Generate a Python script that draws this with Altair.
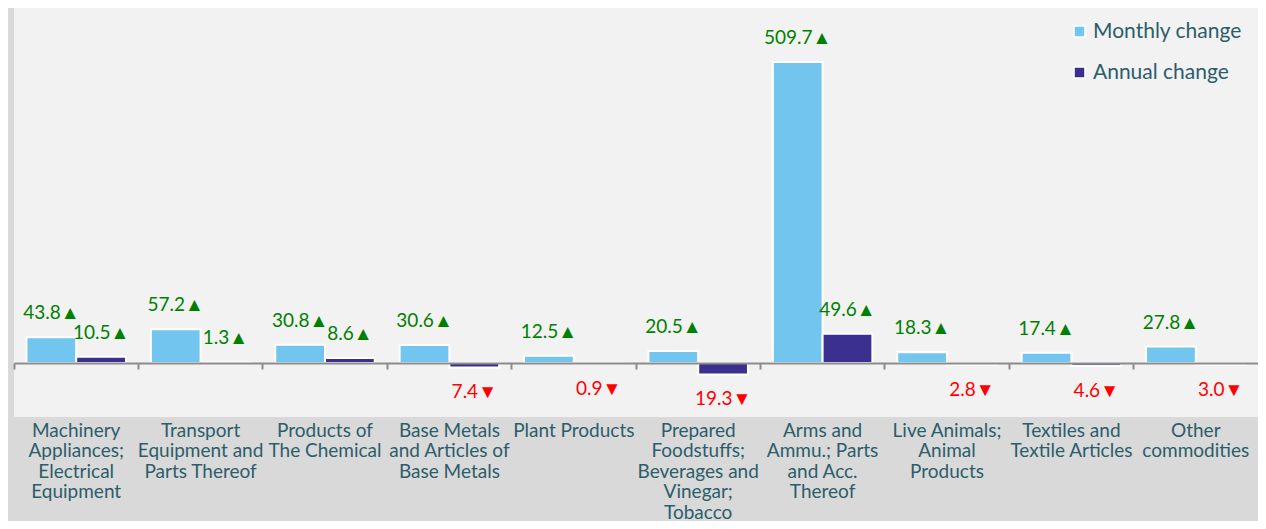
import altair as alt
import pandas as pd

categories = [
    "Machinery|Appliances;|Electrical|Equipment",
    "Transport|Equipment and|Parts Thereof",
    "Products of|The Chemical",
    "Base Metals|and Articles of|Base Metals",
    "Plant Products",
    "Prepared|Foodstuffs;|Beverages and|Vinegar;|Tobacco",
    "Arms and|Ammu.; Parts|and Acc.|Thereof",
    "Live Animals;|Animal|Products",
    "Textiles and|Textile Articles",
    "Other|commodities",
]
monthly = [43.8, 57.2, 30.8, 30.6, 12.5, 20.5, 509.7, 18.3, 17.4, 27.8]
annual = [10.5, 1.3, 8.6, -7.4, -0.9, -19.3, 49.6, -2.8, -4.6, -3.0]
series = ["Monthly change", "Annual change"]
colors = ["#72c5ef", "#3b2f8f"]

rows = []
for c, m, a in zip(categories, monthly, annual):
    for s, v in zip(series, [m, a]):
        rows.append({"category": c, "series": s, "value": v,
                     "label": f"{abs(v):.1f}" + ("▲" if v >= 0 else "▼")})
df = pd.DataFrame(rows)

FONT = "Lato"
TEAL = "#2b5d6b"
W, H = 1244, 409
ymin, ymax = -91.4, 601.2
zero_offset = -H * (0 - ymin) / (ymax - ymin)

x_enc = alt.X(
    "category:N", sort=categories, title=None,
    scale=alt.Scale(paddingInner=0, paddingOuter=0),
    axis=alt.Axis(
        labelExpr="split(datum.label, '|')", labelAngle=0, labelFontSize=19,
        labelFont=FONT, labelColor=TEAL, labelLineHeight=20.5, labelBaseline="top",
        labelLimit=0, labelPadding=-zero_offset - 2, offset=zero_offset,
        domain=True, domainColor="#8c8c8c", domainWidth=2,
        ticks=True, tickColor="#8c8c8c", tickWidth=2, tickSize=6,
        bandPosition=0, zindex=1, orient="bottom",
    ),
)
xo_enc = alt.XOffset("series:N", sort=series,
                     scale=alt.Scale(domain=series, paddingInner=0, paddingOuter=0.25))
y_enc = alt.Y("value:Q", axis=None,
              scale=alt.Scale(domain=[ymin, ymax], nice=False, zero=False))

bars = alt.Chart(df).mark_bar(stroke="white", strokeWidth=2).encode(
    x=x_enc, xOffset=xo_enc, y=y_enc,
    color=alt.Color(
        "series:N", sort=series, title=None,
        scale=alt.Scale(domain=series, range=colors),
        legend=alt.Legend(
            orient="none", legendX=1055, legendY=13, labelFont=FONT,
            labelFontSize=21, labelColor=TEAL, symbolType="square",
            symbolSize=120, symbolStrokeColor="white", symbolStrokeWidth=1.5,
            rowPadding=19, labelOffset=3, symbolOpacity=1,
        ),
    ),
)

pos = alt.Chart(df).transform_filter(alt.datum.value >= 0).mark_text(
    font=FONT, fontSize=19, dy=-24, baseline="middle", color="#008000"
).encode(x=x_enc, xOffset=xo_enc, y=y_enc, text="label:N")

neg = alt.Chart(df).transform_filter(alt.datum.value < 0).mark_text(
    font=FONT, fontSize=19, dy=25, baseline="middle", color="#ff0000"
).encode(x=x_enc, xOffset=xo_enc, y=y_enc, text="label:N")

chart = alt.layer(bars, pos, neg).properties(
    width=W, height=H, background="#d9d9d9",
    padding={"left": 6, "top": 0, "right": 0, "bottom": 104},
    autosize=alt.AutoSizeParams(type="none"),
).configure_view(fill="#f2f2f2", stroke=None)

chart.save("out.html", embed_options={"renderer": "svg", "actions": False})
